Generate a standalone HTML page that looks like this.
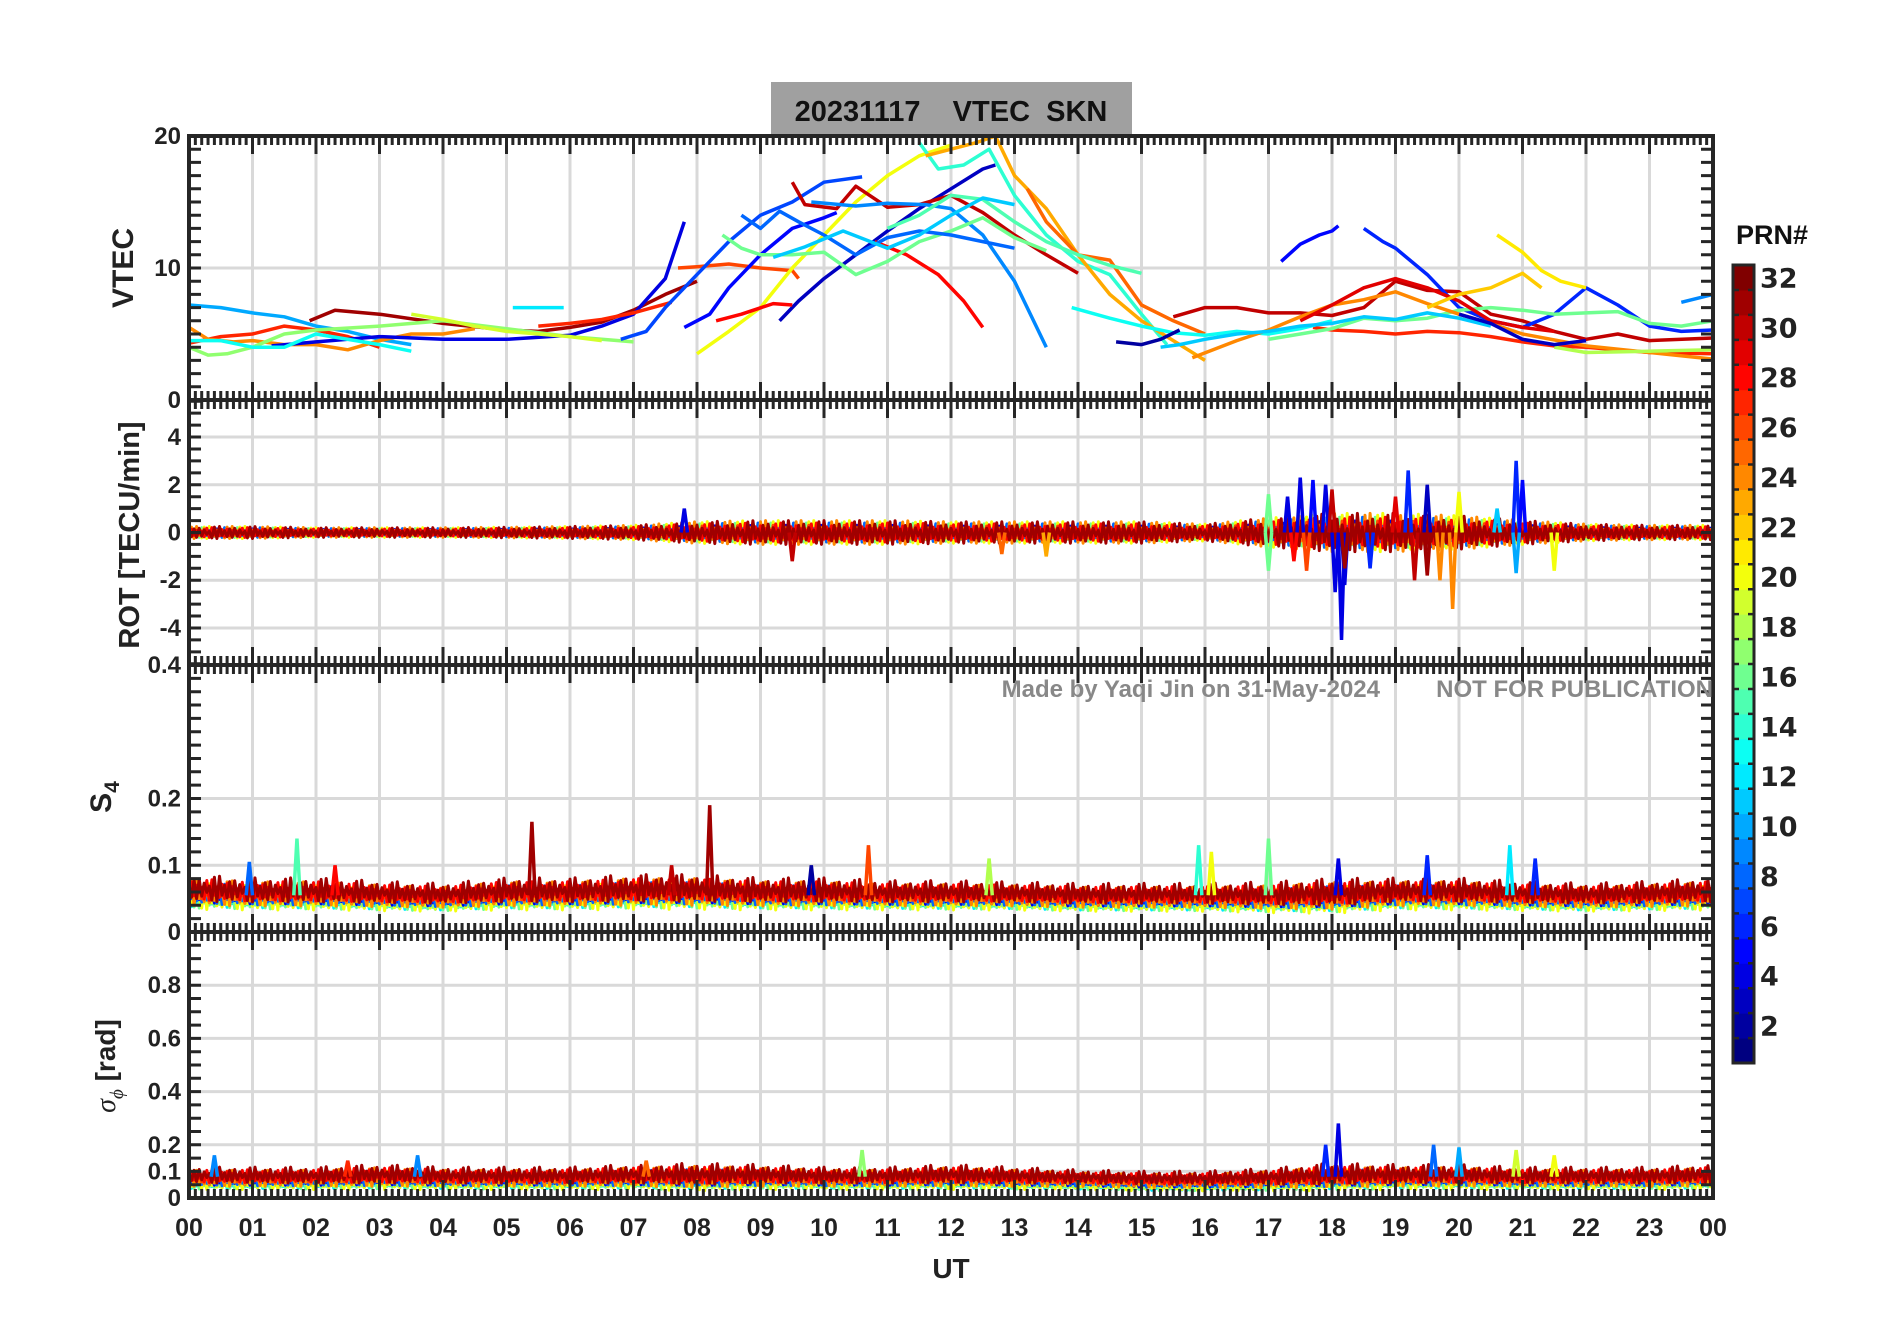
<!DOCTYPE html>
<html><head><meta charset="utf-8">
<style>
html,body{margin:0;padding:0;background:#fff;}
svg{display:block;font-family:"Liberation Sans",Arial,sans-serif;}
</style></head>
<body>
<svg id="chart" width="1902" height="1330" viewBox="0 0 1902 1330" xmlns="http://www.w3.org/2000/svg">
<rect x="0" y="0" width="1902" height="1330" fill="#fff"/>
<g id="grid"></g>
<g id="series"></g>
<g id="axes"></g>
<rect x="771" y="82" width="361" height="52" fill="#a0a0a0"/>
<text x="951" y="121" text-anchor="middle" font-size="29" font-weight="bold" fill="#111" xml:space="preserve">20231117    VTEC  SKN</text>
<text x="1380" y="697" text-anchor="end" font-size="24" font-weight="bold" fill="#888">Made by Yaqi Jin on 31-May-2024</text>
<text x="1713" y="697" text-anchor="end" font-size="24" font-weight="bold" fill="#888">NOT FOR PUBLICATION</text>
<text x="1772" y="244" text-anchor="middle" font-size="27" font-weight="bold" fill="#111">PRN#</text>
<g id="cbar"></g>
<text x="951" y="1278" text-anchor="middle" font-size="28" font-weight="bold" fill="#222">UT</text>
<text transform="translate(133,268) rotate(-90)" text-anchor="middle" font-size="30" font-weight="bold" fill="#222">VTEC</text>
<text transform="translate(139,535) rotate(-90)" text-anchor="middle" font-size="29" font-weight="bold" fill="#222">ROT [TECU/min]</text>
<text transform="translate(111,797) rotate(-90)" text-anchor="middle" font-size="30" font-weight="bold" fill="#222">S<tspan font-size="21" dy="8">4</tspan></text>
<text transform="translate(115,1066) rotate(-90)" text-anchor="middle" font-size="28" font-weight="bold" fill="#222"><tspan font-family="Liberation Serif" font-style="italic" font-weight="normal">σ</tspan><tspan font-size="19" dy="8" font-family="Liberation Serif" font-style="italic" font-weight="normal">ϕ</tspan><tspan dy="-8"> [rad]</tspan></text>
</svg>
<script>
// ---------- data ----------
const hourLabels = ["00","01","02","03","04","05","06","07","08","09","10","11","12","13","14","15","16","17","18","19","20","21","22","23","00"];
const vtecTicks = [0,10,20];
const rotTicks = [-4,-2,0,2,4];
const s4Ticks = [0,0.1,0.2,0.4];
const sigTicks = [0,0.1,0.2,0.4,0.6,0.8];
const cbarTicks = [2,4,6,8,10,12,14,16,18,20,22,24,26,28,30,32];

const vtecPrns = [10,31,27,24,17,4,12,19,13,27,26,7,5,20,3,28,28,30,14,23,25,9,15,16,8,11,
  5,30,27,6,13,21,16,24,11,9,18,29,2,3,22];
const vtecTimes = [
 [0,0.5,1,1.5,2,2.5,3,3.5],
 [1.9,2.3,3,4,5,5.5,6,6.5,7,7.5,8],
 [0,0.5,1,1.5,2,2.5,3],
 [0,0.3,0.7,1,1.5,2,2.5,3,3.5,4,4.5],
 [0,0.3,0.6,1,1.5,2,3,4,5,6,7],
 [1.3,2,3,4,5,6,6.5,7,7.5,7.8],
 [5.1,5.9],
 [3.5,4,4.5,5,5.5,6,6.5],
 [0,0.5,1,1.5,2,3,3.5],
 [5.5,6,6.5,7,7.6],
 [7.7,8,8.5,9,9.5,9.6],
 [6.8,7.2,7.5,8,8.5,9,9.5,10,10.6],
 [7.8,8.2,8.5,9,9.5,10,10.2],
 [8,8.5,9,9.5,10,10.5,11,11.5,12],
 [9.3,9.6,10,10.5,11,11.5,12,12.5,12.7],
 [8.3,8.7,9.2,9.5],
 [10.8,11.3,11.8,12.2,12.5],
 [9.5,9.7,10.2,10.5,11,11.5,12,12.5,13,13.5,14],
 [11.5,11.8,12.2,12.6,13,13.5,14,14.5,15,15.4],
 [11.6,12,12.4,12.7,13,13.5,14,14.5,15,15.5,16],
 [13.2,13.5,14,14.5,15,15.5,16],
 [9.8,10.5,11,11.6,12,12.5,13,13.5],
 [11,11.5,12,12.5,13,13.5,14,14.5,15],
 [8.4,8.7,9,9.5,10,10.5,11,11.5,12,12.5,13,13.5],
 [8.7,9,9.3,9.6,10,10.5,11,11.5,12,12.5,13],
 [9.2,9.7,10.3,11,11.5,12,12.5,13],
 [17.2,17.5,17.8,18,18.1],
 [15.5,16,16.5,17,17.5,18,18.5,19,19.5,20,20.5,21,21.5,22,22.5,23,24],
 [17.7,18,18.5,19,19.5,20,20.5,21,21.5,22,22.5,23,24],
 [18.5,18.8,19,19.5,20,20.5,21,21.5,22,22.5,23,23.5,24],
 [13.9,14.5,15,15.5,16,16.5,17,17.5,18],
 [20.6,21,21.3,21.6,22],
 [17,17.5,18,18.5,19,19.5,20,20.5,21,21.5,22,22.5,23,23.5,24],
 [15.8,16.5,17,17.5,18,18.5,19,19.5,20,20.5,21,22,23,24],
 [15.3,15.6,16,16.5,17,17.5,18,18.5,19,19.5,20,20.5],
 [23.5,24],
 [21.5,22,23,24],
 [17.5,18,18.5,19,19.5,20,20.5,21,21.5],
 [14.6,15,15.3,15.6],
 [20,20.5,21,21.5,22],
 [19.5,20,20.5,21,21.3]
];
const vtecValues = [
 [7.2,7,6.6,6.3,5.6,5.2,4.6,4.2],
 [6,6.8,6.5,5.8,5.3,5.2,5.5,5.9,6.8,8,9],
 [4.3,4.8,5,5.6,5.3,4.8,4],
 [5.5,4.6,4.4,4.5,4.2,4.2,3.8,4.5,5,5,5.4],
 [4,3.4,3.5,4,5,5.3,5.6,6,5.4,4.8,4.4],
 [4.1,4.4,4.8,4.6,4.6,4.9,5.6,6.5,9.2,13.5],
 [7,7],
 [6.5,6.1,5.6,5.2,5,4.8,4.5],
 [4.5,4.5,4,4,5,4.2,3.7],
 [5.6,5.8,6.1,6.6,7.4],
 [10,10.1,10.3,10,9.8,9.2],
 [4.6,5.2,7,9.5,12,14,15,16.5,16.9],
 [5.5,6.5,8.5,11,13,13.8,14.2],
 [3.5,5.2,7,10,12.5,15,17,18.5,19.3],
 [6,7.5,9.2,11,12.8,14.5,16,17.5,17.8],
 [6,6.5,7.3,7.2],
 [12,11,9.5,7.5,5.5],
 [16.5,14.8,14.5,16.2,14.6,14.8,15.5,14.2,12.5,11,9.6],
 [19.5,17.5,17.8,19,15.5,12.5,10.5,9.5,6.5,4.2],
 [18.5,19,19.5,20,17,14.5,11,8,6,4.5,3],
 [16,13.5,11,10.6,7.2,6,5],
 [15,14.7,14.9,14.8,14.5,12.5,9,4],
 [13,14,15.5,15.2,13.5,12,11,10.2,9.6],
 [12.5,11.5,11,11,11.2,9.5,10.5,12,12.8,13.8,12.3,11.3],
 [14,13,14.3,13.5,12.5,11,12.3,12.8,12.5,12,11.5],
 [10.8,11.6,12.8,11.5,12.5,14,15.3,14.8],
 [10.5,11.8,12.5,12.8,13.2],
 [6.3,7,7,6.6,6.6,6.4,7,9,8.3,8.2,6.5,6,5.2,4.6,5,4.5,4.7],
 [5.5,5.3,5.2,5,5.2,5.1,4.8,4.4,4.1,4,3.8,3.6,3.5],
 [13,12,11.5,9.5,7,6,5.5,6.5,8.5,7.2,5.6,5.2,5.3],
 [7,6.2,5.6,5.1,4.9,5.2,5,5.4,6],
 [12.5,11.2,9.8,9,8.5],
 [4.6,5,5.4,6.2,6,6.2,6.8,7,6.8,6.5,6.6,6.7,5.8,5.6,6],
 [3.2,4.5,5.3,6.3,7.2,7.6,8.2,7.3,6.5,5.8,5,4.1,3.6,3.1],
 [4,4.2,4.6,5,5.2,5.6,5.8,6.3,6.1,6.6,6.2,5.6],
 [7.4,8],
 [4,3.6,3.7,3.8],
 [6,7.2,8.5,9.2,8.5,7.5,6,5.5,5.2],
 [4.4,4.2,4.6,5.3],
 [6.5,5.8,4.6,4.2,4.5],
 [7,8,8.5,9.6,8.5]
];

const bandPrns = [12,16,20,4,8,24,26,28,31];
const rotAmp = [0.25,0.25,0.2,0.2,0.2,0.22,0.25,0.3,0.45,0.5,0.5,0.5,0.45,0.45,0.45,0.45,0.35,0.6,0.8,0.8,0.7,0.5,0.35,0.3,0.3];
const s4Center = [0.058,0.055,0.055,0.052,0.05,0.055,0.055,0.058,0.058,0.055,0.055,0.053,0.053,0.052,0.05,0.05,0.05,0.05,0.052,0.055,0.055,0.052,0.05,0.052,0.055];
const s4Amp = [0.02,0.018,0.018,0.016,0.015,0.018,0.018,0.02,0.02,0.018,0.018,0.016,0.016,0.015,0.015,0.015,0.015,0.017,0.02,0.018,0.018,0.016,0.015,0.016,0.018];
const sigCenter = [0.07,0.07,0.07,0.075,0.07,0.07,0.07,0.075,0.075,0.075,0.07,0.07,0.075,0.07,0.065,0.06,0.06,0.065,0.075,0.075,0.075,0.07,0.07,0.07,0.075];
const sigAmp = [0.03,0.03,0.03,0.035,0.03,0.03,0.03,0.035,0.04,0.035,0.03,0.03,0.035,0.03,0.025,0.025,0.025,0.03,0.04,0.035,0.035,0.03,0.03,0.03,0.035];

const rotSpikeT = [7.8,9.5,12.8,13.5,17.0,17.0,17.3,17.5,17.7,17.9,18.05,18.15,18.2,17.4,17.6,18.6,19.2,19.3,19.5,19.7,19.9,20.0,20.6,20.9,20.9,21.5,18.0,18.2,19.0,19.5,21.0];
const rotSpikeV = [1.0,-1.2,-0.9,-1.0,1.6,-1.6,1.5,2.3,2.2,2.0,-2.5,-4.5,-2.2,-1.2,-1.6,-1.5,2.6,-2.0,2.0,-2.0,-3.2,1.7,1.0,3.0,-1.7,-1.6,1.8,-1.5,1.5,-1.8,2.2];
const rotSpikePrn = [4,30,25,23,16,16,4,4,5,4,4,4,4,28,26,6,6,30,3,24,24,20,11,6,10,20,30,31,29,31,5];

const s4SpikeT = [0.95,1.7,2.3,5.4,7.6,8.2,9.8,10.7,12.6,15.9,16.1,17.0,18.1,19.5,20.8,21.2];
const s4SpikeV = [0.105,0.14,0.1,0.165,0.1,0.19,0.1,0.13,0.11,0.13,0.12,0.14,0.11,0.115,0.13,0.11];
const s4SpikePrn = [8,15,28,31,30,31,2,26,18,14,20,16,4,6,12,6];

const sigSpikeT = [0.4,2.5,3.6,7.2,10.6,17.9,18.1,19.6,20.0,20.9,21.5];
const sigSpikeV = [0.16,0.14,0.16,0.14,0.18,0.2,0.28,0.2,0.19,0.18,0.16];
const sigSpikePrn = [9,27,9,25,17,6,4,8,10,19,20];

// ---------- geometry ----------
const X0=189, X1=1713;
const panels = {
  vtec:{top:136,bot:400,min:0,max:20},
  rot:{top:400,bot:665,min:-5.55,max:5.55},
  s4:{top:665,bot:932,min:0,max:0.4},
  sig:{top:932,bot:1198,min:0,max:1}
};
const NS="http://www.w3.org/2000/svg";
function xs(h){return X0+h*(X1-X0)/24;}
function ys(p,v){const P=panels[p];return P.bot-(v-P.min)/(P.max-P.min)*(P.bot-P.top);}
function jet(prn){const t=(prn-1)/31;const c=x=>Math.round(255*Math.max(0,Math.min(1,1.5-Math.abs(x))));return `rgb(${c(4*t-3)},${c(4*t-2)},${c(4*t-1)})`;}
function mk(tag,attrs,parent){const e=document.createElementNS(NS,tag);for(const k in attrs)e.setAttribute(k,attrs[k]);parent.appendChild(e);return e;}
function interp(arr,h){const i=Math.min(23,Math.floor(h));const f=h-i;return arr[i]*(1-f)+arr[i+1]*f;}

const grid=document.getElementById('grid'), series=document.getElementById('series'), axes=document.getElementById('axes');

for(const p in panels){
  const P=panels[p];
  for(let h=1;h<24;h++){
    const l=mk('line',{x1:xs(h),x2:xs(h),y1:P.top,y2:P.bot,stroke:'#d9d9d9','stroke-width':3},grid);
    
    
  }
}
const hgrid={vtec:[10],rot:[-4,-2,0,2,4],s4:[0.1,0.2],sig:[0.1,0.2,0.4,0.6,0.8]};
for(const p in hgrid){for(const v of hgrid[p]){
  const l=mk('line',{x1:X0,x2:X1,y1:ys(p,v),y2:ys(p,v),stroke:'#d9d9d9','stroke-width':3},grid);
  
  
}}

vtecPrns.forEach((prn,i)=>{
  const pts=vtecTimes[i].map((t,j)=>xs(t).toFixed(1)+','+ys('vtec',vtecValues[i][j]).toFixed(1)).join(' ');
  const pl=mk('polyline',{points:pts,fill:'none',stroke:jet(prn),'stroke-width':3.5,'stroke-linejoin':'round'},series);
  
  
});

const pat=[0.9,-0.7,0.4,-1,0.6,-0.3,1,-0.8,0.2,-0.5,0.7,-0.9,0.3,-0.6];
function band(p,centerFn,ampFn,name){
  bandPrns.forEach((prn,k)=>{
    const pts=[];
    for(let h=0;h<=24.001;h+=0.04){
      const n=Math.round(h/0.04);
      const c=centerFn(h,k), a=ampFn(h);
      const v=c+a*pat[(n*3+k*5)%pat.length]*(0.6+0.4*((k%3)/2));
      pts.push(xs(Math.min(h,24)).toFixed(1)+','+ys(p,v).toFixed(1));
    }
    const pl=mk('polyline',{points:pts.join(' '),fill:'none',stroke:jet(prn),'stroke-width':3,'stroke-linejoin':'round'},series);
    
    
  });
}
function spikes(p,T,V,P,name,base){
  T.forEach((t,i)=>{
    const pl=mk('polyline',{points:`${xs(t-0.05)},${ys(p,base)} ${xs(t)},${ys(p,V[i])} ${xs(t+0.05)},${ys(p,base)}`,fill:'none',stroke:jet(P[i]),'stroke-width':3.5},series);
    
    
  });
}
band('rot',()=>0,h=>interp(rotAmp,h),'rot');
spikes('rot',rotSpikeT,rotSpikeV,rotSpikePrn,'rot',0);
band('s4',(h,k)=>interp(s4Center,h)+(k-4)*0.002,h=>interp(s4Amp,h),'s4');
spikes('s4',s4SpikeT,s4SpikeV,s4SpikePrn,'s4',0.055);
band('sig',(h,k)=>interp(sigCenter,h)+(k-4)*0.004,h=>interp(sigAmp,h),'sigma');
spikes('sig',sigSpikeT,sigSpikeV,sigSpikePrn,'sigma',0.08);

const AX='#262626';
for(const p in panels){
  const P=panels[p];
  const r=mk('rect',{x:X0,y:P.top,width:X1-X0,height:P.bot-P.top,fill:'none',stroke:AX,'stroke-width':4},axes);
  
  
  let d='';
  for(let i=0;i<=240;i++){
    const x=xs(i/10), len=(i%10===0)?18:9;
    d+=`M${x},${P.top}v${len}M${x},${P.bot}v${-len}`;
  }
  const t=mk('path',{d:d,stroke:AX,'stroke-width':3,fill:'none'},axes);
  
  
}
const yMinor={vtec:1,rot:0.5,s4:0.02,sig:0.05};
for(const p in yMinor){
  const P=panels[p];let d='';
  for(let v=Math.ceil(P.min/yMinor[p]-1e-6)*yMinor[p];v<=P.max+1e-9;v+=yMinor[p]){
    const y=ys(p,v);if(y<P.top-1||y>P.bot+1)continue;
    d+=`M${X0},${y}h12M${X1},${y}h-12`;
  }
  const t=mk('path',{d:d,stroke:AX,'stroke-width':3,fill:'none'},axes);
  
  
}
function ylabels(p,ticks,fmt){
  ticks.forEach(v=>{
    const tx=mk('text',{x:X0-8,y:ys(p,v)+8,'text-anchor':'end','font-size':24,'font-weight':'bold',fill:'#222'},axes);
    tx.textContent=fmt(v);
    
    
  });
}
ylabels('vtec',vtecTicks,v=>String(v));
ylabels('rot',rotTicks,v=>String(v));
ylabels('s4',s4Ticks,v=>v===0?'0':String(v));
ylabels('sig',sigTicks,v=>v===0?'0':String(v));
hourLabels.forEach((lab,i)=>{
  const tx=mk('text',{x:xs(i),y:1236,'text-anchor':'middle','font-size':25,'font-weight':'bold',fill:'#222'},axes);
  tx.textContent=lab;
  
  
});

const cb=document.getElementById('cbar');
const CB={x:1733,w:21,top:265,bot:1063};
const bh=(CB.bot-CB.top)/32;
for(let p=1;p<=32;p++){
  const r=mk('rect',{x:CB.x,y:CB.bot-p*bh,width:CB.w,height:bh+0.5,fill:jet(p)},cb);
  
  
}
let cd='';
for(let p=1;p<32;p++){const y=CB.bot-p*bh;cd+=`M${CB.x},${y}h6M${CB.x+CB.w},${y}h-6`;}
const cbt=mk('path',{d:cd,stroke:AX,'stroke-width':2.5},cb);


const cbf=mk('rect',{x:CB.x,y:CB.top,width:CB.w,height:CB.bot-CB.top,fill:'none',stroke:AX,'stroke-width':3},cb);


cbarTicks.forEach(v=>{
  const y=CB.bot-(v-0.5)*bh;
  const tx=mk('text',{x:1760,y:y+10,'font-size':27,'font-weight':'bold',fill:'#222','font-family':'DejaVu Sans, sans-serif'},cb);
  tx.textContent=String(v);
  
  
});
</script>
</body></html>
